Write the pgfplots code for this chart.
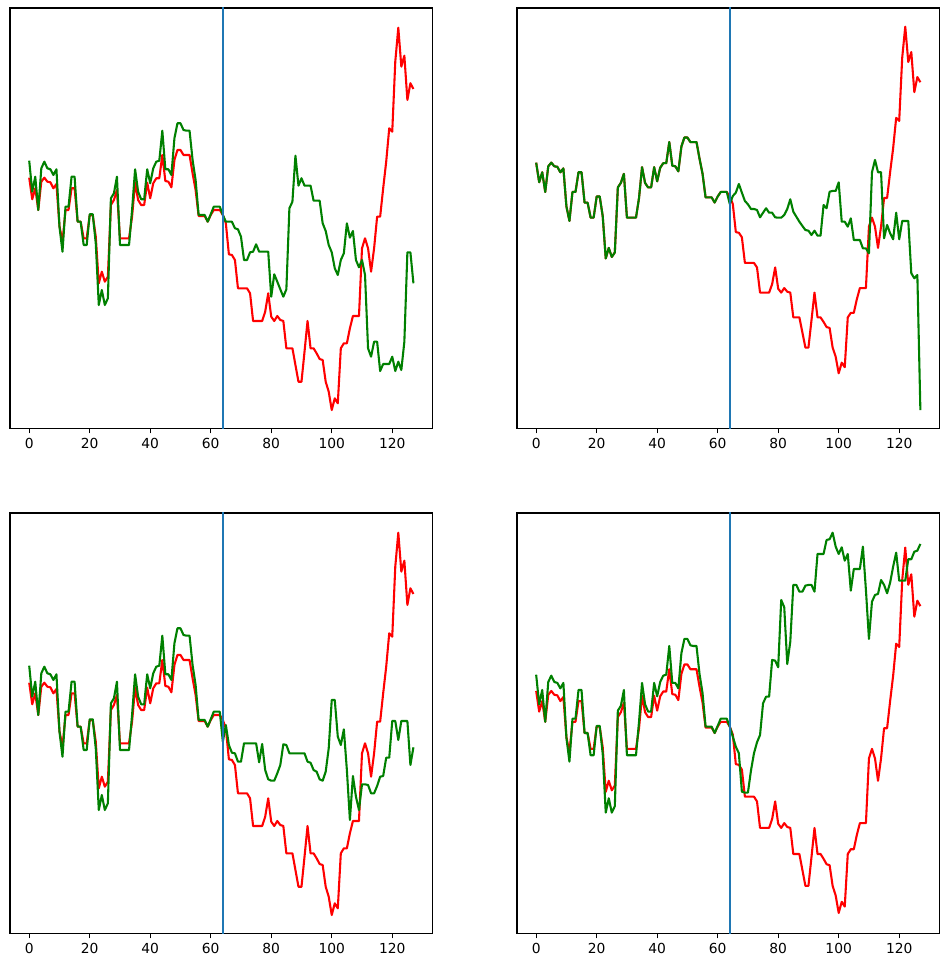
\documentclass[border=0pt]{standalone}
\usepackage{fontspec}
\setmainfont{DejaVu Sans}
\usepackage{pgfplots}
\usepackage{pgfplotstable}
\pgfplotsset{compat=1.18}
\definecolor{mgreen}{rgb}{0,0.5,0}
\definecolor{cblue}{HTML}{1F77B4}
\pgfplotstableread{
x r gTL gTR gBL gBR
0 250.3 267.3 250.3 267.3 267.3
1 228.7 236.3 228.7 236.3 236.3
2 239.7 251.3 239.7 251.3 251.3
3 218 218 218 218 218
4 246.3 259.7 246.3 259.7 259.7
5 250.3 266.3 250.3 266.3 266.3
6 246.3 259.7 246.3 259.7 259.7
7 245.7 258.7 245.7 258.7 258.7
8 239.7 253 239.7 253 253
9 244 258.7 244 258.7 258.7
10 202 201.3 202 201.3 201.3
11 186 176.3 186 176.3 176.3
12 218 221.3 218 221.3 221.3
13 218 221.3 218 221.3 221.3
14 239.7 251.3 239.7 251.3 251.3
15 239.7 251.3 239.7 251.3 251.3
16 206.3 206.3 206.3 206.3 206.3
17 206.3 206.3 206.3 206.3 206.3
18 189.7 183 189.7 183 183
19 189.7 183 189.7 183 183
20 213 213.7 213 213.7 213.7
21 213 213.7 213 213.7 213.7
22 191.3 184.7 191.3 184.7 184.7
23 144.7 123 144.7 123 123
24 156.3 138 156.3 138 138
25 146.3 123 146.3 123 123
26 151.3 129.7 151.3 129.7 129.7
27 223 229.7 223 229.7 229.7
28 228 234.7 228 234.7 234.7
29 238 251.3 238 251.3 251.3
30 189.7 183 189.7 183 183
31 189.7 183 189.7 183 183
32 189.7 183 189.7 183 183
33 189.7 183 189.7 183 183
34 211.3 218 211.3 218 218
35 245.3 258.7 245.3 258.7 258.7
36 228 236.3 228 236.3 236.3
37 223 228.7 223 228.7 228.7
38 223 228.7 223 228.7 228.7
39 245.3 258.7 245.3 258.7 258.7
40 229.7 244.7 229.7 244.7 244.7
41 244.7 259.7 244.7 259.7 259.7
42 249.7 266.3 249.7 266.3 266.3
43 249.7 267.3 249.7 267.3 267.3
44 273 297.3 273 297.3 297.3
45 247 258.7 247 258.7 258.7
46 246.3 258.7 246.3 258.7 258.7
47 240.7 253 240.7 253 253
48 268 289.7 268 289.7 289.7
49 278 304.7 278 304.7 304.7
50 278 304.7 278 304.7 304.7
51 273 298 273 298 298
52 273 297.3 273 297.3 297.3
53 273 297.3 273 297.3 297.3
54 254.7 268 254.7 268 268
55 238 248 238 248 248
56 212 213 212 213 213
57 212 213 212 213 213
58 212 213 212 213 213
59 206.3 206.3 206.3 206.3 206.3
60 213 213.7 213 213.7 213.7
61 218 221.3 218 221.3 221.3
62 218 221.3 218 221.3 221.3
63 218 221.3 218 221.3 221.3
64 213 213 204.7 191.3 212.9
65 204.7 206.3 213.5 208 202.5
66 173.7 206.3 217.2 188 192.0
67 173 206.3 226.8 180.3 185.1
68 168 199.7 217.2 179.7 144.9
69 139.7 198.7 208.0 171.3 143.9
70 139.7 191.3 204.4 171.3 143.9
71 139.7 168 199.2 189.7 166.9
72 139.7 168 199.2 189.7 185.1
73 134.7 175.7 198.1 189.7 196.6
74 107 176.3 190.0 189.7 204.2
75 107 183.7 195.1 189.7 237.4
76 107 176.3 200.0 170.7 244.3
77 107 176.3 195.1 189 244.3
78 116.3 176.3 195.1 163 282.7
79 134.7 176.3 190.0 153.7 282.0
80 111.3 131.3 189.6 152.3 275.1
81 107 153.7 189.6 152.3 345.5
82 112 146.3 192.6 159.7 337.9
83 108 138.7 199.2 168 278.5
84 107 131.3 209.9 188.7 301.9
85 79.7 138.7 196.2 188 361.2
86 79.7 219.7 190.7 179.7 361.2
87 79.7 226.3 185.2 179.7 354.2
88 63 272.3 180.5 179.7 354.2
89 46.3 242.3 176.0 179.7 360.5
90 46.3 249.7 175.3 179.7 361.2
91 76.3 242.3 170.5 179.7 361.2
92 107 242.3 175.3 171.3 354.2
93 79.7 242.3 169.8 170.3 393.6
94 79.7 227.3 169.8 163 393.6
95 74.7 227.3 203.6 161.3 393.6
96 69 227.3 200.0 153.7 408.3
97 68 204.7 218.3 152.3 409.0
98 46.3 197 219.1 161.3 415.9
99 36.3 183 219.1 184.7 401.3
100 18 175.7 228.6 233 393.6
101 29.7 159.7 185.2 233 400.6
102 24.7 153 185.2 196.3 386.6
103 79.7 168 179.7 188 393.6
104 84.7 174.7 188.9 203.7 355.2
105 84.7 204.7 165.0 163 377.9
106 99.7 190.3 165.0 113 377.9
107 112 197 165.0 157 377.9
108 112 168 155.8 136.3 401.3
109 112 160.7 155.8 123 356.0
110 179.7 168 150.3 148.7 304.7
111 189.7 153 239.7 148.7 343.7
112 179.7 79.7 253.3 148 350.7
113 156.3 71.3 239.7 139.7 351.8
114 179.7 86.3 239.7 139.7 366.4
115 211.3 86.3 166.9 147 361.2
116 211.3 57 181.6 156.3 352.5
117 239.7 64 172.4 157 363.6
118 266.3 64 165.8 175.3 380.4
119 299.7 64 195.1 175.3 395.0
120 296.3 71.3 165.8 212 365.7
121 366.3 57 186.0 212 365.7
122 400.3 66.3 186.0 193 365.7
123 361.3 58 186.0 212 388.1
124 372.3 86.3 128.3 212 388.1
125 328 175.7 122.8 212 396.0
126 344.7 175.7 126.4 168 397.1
127 339 144.7 -22.5 185.7 404.1
}\data
\pgfplotsset{
  panel/.style={
    scale only axis, width=304.3bp, height=302.8bp,
    anchor=south west,
    xmin=-6.35, xmax=133.35,
    xtick={0,20,...,120}, ytick=\empty,
    xtick pos=bottom, tick align=outside,
    major tick length=3.5bp,
    axis line style={line width=0.8bp},
    every tick/.style={black, line width=0.8bp},
    tick label style={font=\fontsize{10}{12}\selectfont},
    /pgf/number format/assume math mode=true,
    clip=true,
  },
  rl/.style={red, line width=1.5bp, line join=round},
  gl/.style={mgreen, line width=1.5bp, line join=round},
  vl/.style={cblue, line width=1.5bp},
}
\begin{document}
\begin{tikzpicture}
\path[use as bounding box] (0,0) rectangle (684bp,696.24bp);
% top left
\begin{axis}[panel, at={(7.2bp,387.7bp)}, ymin=-0.5, ymax=420]
\addplot[rl] table[x=x,y=r]{\data};
\addplot[gl] table[x=x,y=gTL]{\data};
\addplot[vl] coordinates {(64,-100) (64,600)};
\end{axis}
% top right
\begin{axis}[panel, at={(372.2bp,387.7bp)}, ymin=-42.9, ymax=420.9]
\addplot[rl] table[x=x,y=r]{\data};
\addplot[gl] table[x=x,y=gTR]{\data};
\addplot[vl] coordinates {(64,-100) (64,600)};
\end{axis}
% bottom left
\begin{axis}[panel, at={(7.2bp,24.1bp)}, ymin=-0.5, ymax=420]
\addplot[rl] table[x=x,y=r]{\data};
\addplot[gl] table[x=x,y=gBL]{\data};
\addplot[vl] coordinates {(64,-100) (64,600)};
\end{axis}
% bottom right
\begin{axis}[panel, at={(372.2bp,24.1bp)}, ymin=-3.5, ymax=436.5]
\addplot[rl] table[x=x,y=r]{\data};
\addplot[gl] table[x=x,y=gBR]{\data};
\addplot[vl] coordinates {(64,-100) (64,600)};
\end{axis}
\end{tikzpicture}
\end{document}
